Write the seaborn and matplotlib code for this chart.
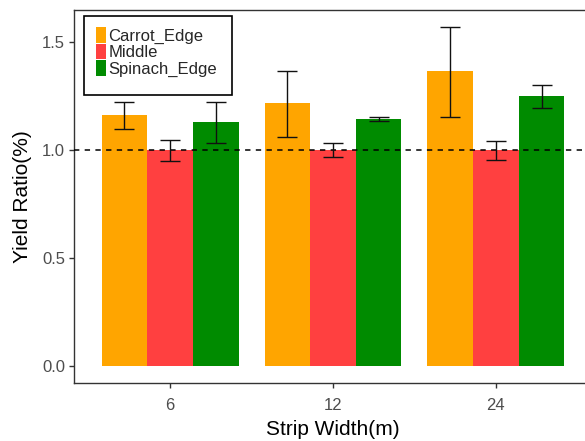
import matplotlib
matplotlib.use("Agg")
import matplotlib.pyplot as plt
import seaborn as sns
import pandas as pd
import numpy as np
from matplotlib.patches import Patch, Rectangle

# ---- data ----
widths = ["6", "12", "24"]
positions = ["Carrot_Edge", "Middle", "Spinach_Edge"]
carrot_mean = [1.161, 1.216, 1.366]
middle_mean = [1.0, 1.0, 1.0]
spinach_mean = [1.128, 1.142, 1.251]
carrot_lo = [1.096, 1.059, 1.155]
carrot_hi = [1.221, 1.364, 1.571]
middle_lo = [0.948, 0.966, 0.954]
middle_hi = [1.046, 1.034, 1.040]
spinach_lo = [1.034, 1.133, 1.196]
spinach_hi = [1.221, 1.153, 1.302]
colors = ["#FFA500", "#FF4040", "#008B00"]

rows = []
for pos, m, lo, hi in zip(positions,
                          [carrot_mean, middle_mean, spinach_mean],
                          [carrot_lo, middle_lo, spinach_lo],
                          [carrot_hi, middle_hi, spinach_hi]):
    for w, mv, l, h in zip(widths, m, lo, hi):
        rows.append(dict(width=w, position=pos, ratio=mv, lo=l, hi=h))
df = pd.DataFrame(rows)

sns.set_style("white")
plt.rcParams["font.family"] = ["Liberation Sans", "DejaVu Sans"]

fig = plt.figure(figsize=(5.85, 4.41), dpi=100)
W, H = 585, 441
left, right, top, bottom = 74, 592, 10, 383
ax = fig.add_axes([left / W, 1 - bottom / H, (right - left) / W, (bottom - top) / H])

sns.barplot(data=df, x="width", y="ratio", hue="position", order=widths,
            hue_order=positions, palette=colors, width=0.84, errorbar=None,
            saturation=1, ax=ax, edgecolor="none", linewidth=0)

# error bars at bar centres
bars = [p for p in ax.patches if p.get_height() > 0][:len(df)]
for p, (_, r) in zip(bars, df.iterrows()):
    xc = p.get_x() + p.get_width() / 2
    mid = (r.lo + r.hi) / 2
    ax.errorbar(xc, mid, yerr=[[mid - r.lo], [r.hi - mid]], fmt="none",
                ecolor="#111111", elinewidth=1.0, capsize=7.5, capthick=1.0, zorder=5)

ax.axhline(1.0, color="black", linestyle=(0, (3.5, 3.5)), linewidth=1.1, zorder=4)

ax.set_xlim(-0.59, 2.59)
ax.set_ylim(-0.0785, 1.648)
ax.set_yticks([0.0, 0.5, 1.0, 1.5])
ax.set_yticklabels(["0.0", "0.5", "1.0", "1.5"])

for s in ax.spines.values():
    s.set_color("#333333")
    s.set_linewidth(1.0)
ax.tick_params(axis="both", which="both", length=3.5, width=1.0, color="#333333",
               labelsize=12, labelcolor="#4D4D4D", pad=3, direction="out",
               bottom=True, left=True)
ax.tick_params(axis="x", pad=7)

ax.set_xlabel("Strip Width(m)", fontsize=15, color="black", labelpad=5)
ax.set_ylabel("Yield Ratio(%)", fontsize=15, color="black", labelpad=7)

# legend
old = ax.get_legend()
if old is not None:
    old.remove()
handles = [Patch(facecolor=c, edgecolor="none") for c in colors]
leg = fig.legend(handles, positions, loc="upper left",
                 bbox_to_anchor=(96 / W, 1 - 27 / H),
                 frameon=False, fontsize=12, handlelength=0.6, handleheight=1.08,
                 handletextpad=0.15, labelspacing=0.0, borderpad=0.0,
                 borderaxespad=0)
fig.add_artist(Rectangle((84 / W, 1 - 95 / H), (232 - 84) / W, (95 - 16) / H,
                         transform=fig.transFigure, facecolor="white",
                         edgecolor="black", linewidth=1.2, zorder=3))
leg.set_zorder(4)

fig.savefig("out.png", dpi=100)
